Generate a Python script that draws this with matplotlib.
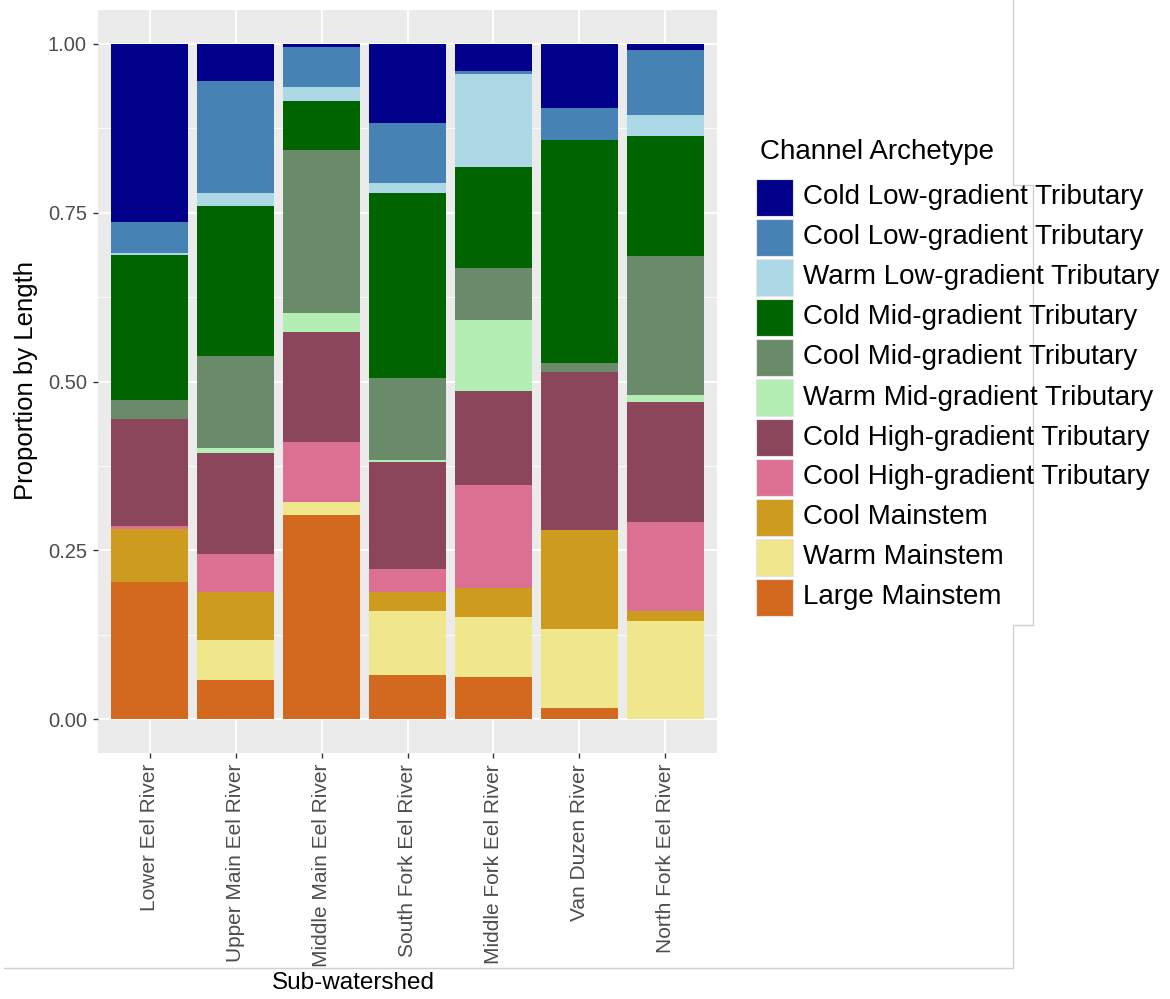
import numpy as np
import matplotlib.pyplot as plt
from matplotlib.patches import Rectangle
from matplotlib.lines import Line2D

plt.rcParams['font.family'] = ['Liberation Sans', 'DejaVu Sans']

W, H = 1170, 999

watersheds = ['Lower Eel River', 'Upper Main Eel River', 'Middle Main Eel River',
              'South Fork Eel River', 'Middle Fork Eel River', 'Van Duzen River',
              'North Fork Eel River']

archetypes = ['Cold Low-gradient Tributary', 'Cool Low-gradient Tributary',
              'Warm Low-gradient Tributary', 'Cold Mid-gradient Tributary',
              'Cool Mid-gradient Tributary', 'Warm Mid-gradient Tributary',
              'Cold High-gradient Tributary', 'Cool High-gradient Tributary',
              'Cool Mainstem', 'Warm Mainstem', 'Large Mainstem']

colors = ['#00008B', '#4682B4', '#ADD8E6', '#006400', '#698B69', '#B4EEB4',
          '#8B465C', '#DB7093', '#CD9B1D', '#F0E68C', '#D2691E']

# proportion of channel length, one list per archetype (order = watersheds)
cold_low = [0.264, 0.055, 0.005, 0.118, 0.041, 0.095, 0.009]
cool_low = [0.046, 0.166, 0.059, 0.089, 0.004, 0.047, 0.096]
warm_low = [0.003, 0.019, 0.020, 0.014, 0.138, 0.000, 0.032]
cold_mid = [0.215, 0.222, 0.073, 0.275, 0.149, 0.330, 0.177]
cool_mid = [0.027, 0.137, 0.242, 0.121, 0.077, 0.014, 0.206]
warm_mid = [0.000, 0.008, 0.027, 0.003, 0.105, 0.000, 0.011]
cold_high = [0.159, 0.149, 0.164, 0.159, 0.140, 0.234, 0.177]
cool_high = [0.004, 0.057, 0.088, 0.034, 0.152, 0.000, 0.132]
cool_main = [0.079, 0.070, 0.000, 0.028, 0.043, 0.146, 0.015]
warm_main = [0.000, 0.060, 0.020, 0.095, 0.090, 0.117, 0.145]
large_main = [0.203, 0.058, 0.302, 0.065, 0.062, 0.017, 0.000]

series = [cold_low, cool_low, warm_low, cold_mid, cool_mid, warm_mid,
          cold_high, cool_high, cool_main, warm_main, large_main]

vals = np.array(series, dtype=float)
vals = vals / vals.sum(axis=0)  # position = fill

fig = plt.figure(figsize=(W / 100, H / 100), dpi=100)
ax = fig.add_axes([98 / W, 1 - 753 / H, (717 - 98) / W, (753 - 10) / H])
ax.set_facecolor('#EBEBEB')

x = np.arange(len(watersheds))
# ggplot stacks the first level on top, so build from the last one up
bottom = np.zeros(len(watersheds))
for i in range(len(archetypes) - 1, -1, -1):
    ax.bar(x, vals[i], 0.9, bottom=bottom, color=colors[i], linewidth=0)
    bottom += vals[i]

ax.set_xlim(-0.6, len(watersheds) - 0.4)
ax.set_ylim(-0.05, 1.05)
ax.set_xticks(x)
ax.set_xticklabels(watersheds, rotation=90, fontsize=15, color='#4D4D4D')
ax.set_yticks([0, 0.25, 0.5, 0.75, 1.0])
ax.set_yticklabels(['0.00', '0.25', '0.50', '0.75', '1.00'], fontsize=14.5, color='#4D4D4D')
ax.set_yticks([0.125, 0.375, 0.625, 0.875], minor=True)
ax.tick_params(which='major', length=3.5, width=1.0, color='#333333', pad=4.5)
ax.tick_params(which='minor', length=0)
ax.set_axisbelow(True)
ax.grid(which='major', color='white', linewidth=1.3)
ax.grid(which='minor', axis='y', color='white', linewidth=0.6)
for s in ax.spines.values():
    s.set_visible(False)

fig.text(26 / W, 1 - 381 / H, 'Proportion by Length', rotation=90,
         ha='center', va='center', fontsize=18.5)
fig.text(353 / W, 1 - 983 / H, 'Sub-watershed', ha='center', va='center', fontsize=17.5)

# legend drawn by hand to match the ggplot guide
fig.text(760 / W, 1 - 152 / H, 'Channel Archetype', ha='left', va='center', fontsize=20)
for i, (lab, c) in enumerate(zip(archetypes, colors)):
    top = 179 + 40 * i
    fig.add_artist(Rectangle((756 / W, 1 - (top + 37) / H), 37 / W, 37 / H,
                             transform=fig.transFigure, facecolor=c,
                             edgecolor='#E4E4E4', linewidth=0.8))
    fig.text(803 / W, 1 - (top + 18.5) / H, lab, ha='left', va='center', fontsize=20)

# thin frame lines left from the pasted figure
px = [1013, 1013, 1033, 1033, 1013, 1013, 4]
py = [0, 185, 185, 625, 625, 968, 968]
fig.add_artist(Line2D([p / W for p in px], [1 - p / H for p in py],
                      transform=fig.transFigure, color='#D0D0D0', linewidth=1))

fig.savefig('out.png', dpi=100, facecolor='white')
